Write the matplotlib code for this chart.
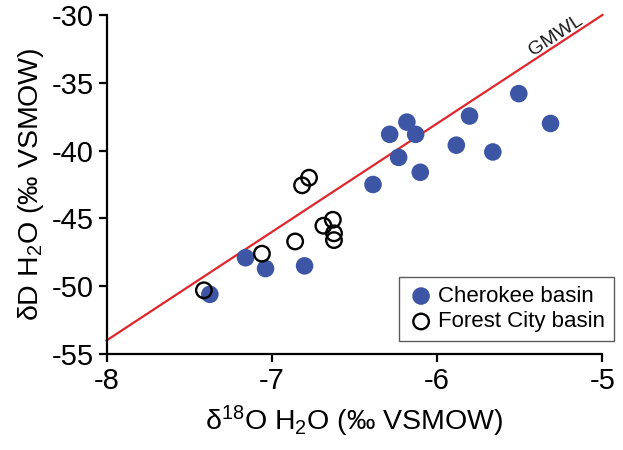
import matplotlib
matplotlib.use("Agg")
import matplotlib.pyplot as plt
import numpy as np

plt.rcParams['font.family'] = ['Liberation Sans', 'DejaVu Sans']
plt.rcParams['mathtext.fontset'] = 'custom'
plt.rcParams['mathtext.rm'] = 'Liberation Sans'
plt.rcParams['mathtext.it'] = 'Liberation Sans:italic'
plt.rcParams['mathtext.bf'] = 'Liberation Sans:bold'

# Data
cherokee_d18o = [-7.375, -7.159, -7.038, -6.802, -6.388, -6.287, -6.183, -6.130,
                 -6.233, -6.102, -5.884, -5.804, -5.663, -5.506, -5.314]
cherokee_dD = [-50.6, -47.9, -48.7, -48.5, -42.5, -38.8, -37.9, -38.8,
               -40.5, -41.6, -39.6, -37.45, -40.1, -35.8, -38.0]
forest_d18o = [-7.411, -7.060, -6.859, -6.817, -6.775, -6.688, -6.631, -6.624, -6.624]
forest_dD = [-50.3, -47.6, -46.7, -42.56, -42.0, -45.54, -45.1, -46.1, -46.6]
gmwl_x = [-8, -5]
gmwl_slope, gmwl_intercept = 8, 10

xticks = [-8, -7, -6, -5]
yticks = [-55, -50, -45, -40, -35, -30]

fig = plt.figure(figsize=(6.23, 4.5), dpi=100)
ax = fig.add_axes([0.171, 0.2133, 0.796, 0.7534])

gx = np.array(gmwl_x, dtype=float)
ax.plot(gx, gmwl_slope * gx + gmwl_intercept, color='#E0262C', lw=1.6, zorder=1, clip_on=False)

ax.scatter(cherokee_d18o, cherokee_dD, s=160, color='#3D55A5', edgecolors='none',
           zorder=3, label='Cherokee basin')
ax.scatter(forest_d18o, forest_dD, s=125, facecolors='none', edgecolors='black',
           linewidths=1.7, zorder=4, label='Forest City basin')

ax.text(-5.28, -31.5, 'GMWL', rotation=33.2, fontsize=14, color='#1a1a1a',
        ha='center', va='center', rotation_mode='anchor')

ax.set_xlim(-8, -5)
ax.set_ylim(-55, -30)
ax.set_xticks(xticks)
ax.set_yticks(yticks)
ax.set_xticklabels([str(t) for t in xticks])
ax.set_yticklabels([str(t) for t in yticks])
ax.spines['top'].set_visible(False)
ax.spines['right'].set_visible(False)
for s in ['left', 'bottom']:
    ax.spines[s].set_linewidth(1.6)
ax.tick_params(axis='both', direction='out', length=6, width=1.6, labelsize=21, pad=3)

ax.set_xlabel('δ$^{18}$O H$_2$O (‰ VSMOW)', fontsize=20.5, labelpad=7)
ax.set_ylabel('δD H$_2$O (‰ VSMOW)', fontsize=20.5, labelpad=4)

leg = ax.legend(loc='lower right', bbox_to_anchor=(1.045, 0.005), fontsize=16,
                frameon=True, fancybox=False, edgecolor='#333333', handletextpad=0.15,
                borderpad=0.4, labelspacing=0.2, handlelength=1.2, markerscale=1.0)
leg.get_frame().set_linewidth(1.0)

fig.savefig('out.png', dpi=100)
